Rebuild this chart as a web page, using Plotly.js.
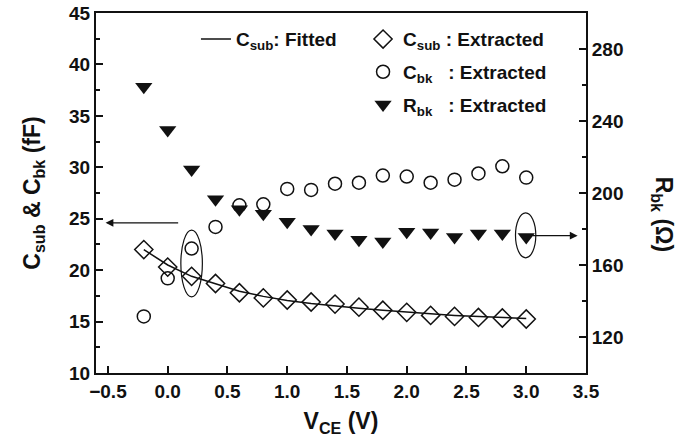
<!DOCTYPE html>
<html>
<head>
<meta charset="utf-8">
<script src="https://cdn.plot.ly/plotly-3.0.1.min.js"></script>
<style>
  html, body { margin: 0; padding: 0; background: #fff; }
  #chart { width: 691px; height: 442px; }
</style>
</head>
<body>
<div id="chart"></div>
<script>
// V_CE (V)
const vce = [-0.2, 0.0, 0.2, 0.4, 0.6, 0.8, 1.0, 1.2, 1.4, 1.6, 1.8, 2.0, 2.2, 2.4, 2.6, 2.8, 3.0];
// C_sub extracted (fF)
const csubExtracted = [22.0, 20.3, 19.4, 18.7, 17.8, 17.3, 17.1, 16.9, 16.7, 16.4, 16.1, 15.9, 15.6, 15.5, 15.4, 15.35, 15.25];
// C_sub fitted (fF)
const csubFitted = [22.0, 20.5, 19.4, 18.65, 17.95, 17.45, 17.05, 16.75, 16.5, 16.3, 16.1, 15.9, 15.75, 15.6, 15.5, 15.4, 15.3];
// C_bk extracted (fF)
const cbkExtracted = [15.5, 19.2, 22.1, 24.2, 26.3, 26.4, 27.9, 27.8, 28.4, 28.5, 29.2, 29.1, 28.5, 28.8, 29.4, 30.1, 29.0];
// R_bk extracted (Ohm)
const rbkExtracted = [259, 235, 213, 196.5, 191, 188.5, 184, 180, 177.5, 174, 173, 178.5, 178, 175.5, 177.5, 177.5, 175.5];

const FONT = "'Liberation Sans', Arial, sans-serif";
const tickFont = {family: FONT, size: 19, color: '#111', weight: 'bold'};
const legFont = {family: FONT, size: 19, color: '#111', weight: 'bold'};
const titleFont = {family: FONT, size: 23, color: '#111', weight: 'bold'};

const traces = [
  {
    x: vce, y: csubFitted, type: 'scatter', mode: 'lines',
    name: 'C<sub>sub</sub>: Fitted',
    line: {color: '#111', width: 1.5},
    legend: 'legend2'
  },
  {
    x: vce, y: csubExtracted, type: 'scatter', mode: 'markers',
    name: 'C<sub>sub</sub> : Extracted', legendgroup: 'a',
    marker: {symbol: 'diamond-open', size: 14, color: '#111', line: {width: 1.5, color: '#111'}}
  },
  {
    x: vce, y: cbkExtracted, type: 'scatter', mode: 'markers',
    name: 'C<sub>bk</sub>&nbsp;&nbsp; : Extracted', legendgroup: 'b',
    marker: {symbol: 'circle-open', size: 13, color: '#111', line: {width: 1.5, color: '#111'}}
  },
  {
    x: vce, y: rbkExtracted, type: 'scatter', mode: 'markers', yaxis: 'y2',
    name: 'R<sub>bk</sub>&nbsp;&nbsp; : Extracted', legendgroup: 'c',
    marker: {symbol: 'triangle-down', size: 15, color: '#111', line: {width: 0}}
  }
];

const layout = {
  width: 691, height: 442,
  margin: {l: 96, r: 105, t: 13, b: 69},
  paper_bgcolor: '#fff', plot_bgcolor: '#fff',
  showlegend: true,
  legend: {
    x: 0.545, y: 0.98, xanchor: 'left', yanchor: 'top',
    bgcolor: 'rgba(0,0,0,0)', font: legFont, tracegroupgap: 5,
    itemwidth: 30
  },
  legend2: {
    x: 0.204, y: 0.98, xanchor: 'left', yanchor: 'top',
    bgcolor: 'rgba(0,0,0,0)', font: legFont
  },
  xaxis: {
    range: [-0.6, 3.5], dtick: 0.5, tick0: 0, tickformat: '.1f',
    showline: true, linecolor: '#111', linewidth: 2, mirror: true,
    ticks: 'inside', ticklen: 7, tickwidth: 2, tickcolor: '#111',
    showgrid: false, zeroline: false, tickfont: tickFont,
    title: {text: 'V<sub>CE</sub> (V)', font: titleFont, standoff: 12}
  },
  yaxis: {
    range: [10, 45], dtick: 5,
    showline: true, linecolor: '#111', linewidth: 2,
    ticks: 'inside', ticklen: 7, tickwidth: 2, tickcolor: '#111',
    minor: {dtick: 2.5, ticks: 'inside', ticklen: 4, tickwidth: 2, tickcolor: '#111', showgrid: false},
    showgrid: false, zeroline: false, tickfont: tickFont,
    title: {text: 'C<sub>sub</sub> & C<sub>bk</sub> (fF)', font: titleFont, standoff: 22}
  },
  yaxis2: {
    overlaying: 'y', side: 'right', range: [100, 300],
    showline: true, linecolor: '#111', linewidth: 2,
    ticks: 'inside', ticklen: 7, tickwidth: 2, tickcolor: '#111',
    minor: {dtick: 20, ticks: 'inside', ticklen: 4, tickwidth: 2, tickcolor: '#111', showgrid: false},
    showgrid: false, zeroline: false, tickfont: tickFont,
    tickvals: [120, 160, 200, 240, 280]
  },
  shapes: [
    {type: 'circle', xref: 'x', yref: 'y', x0: 0.11, x1: 0.29, y0: 17.4, y1: 23.9,
     line: {color: '#111', width: 1.2}},
    {type: 'circle', xref: 'x', yref: 'y2', x0: 2.91, x1: 3.08, y0: 164, y1: 189,
     line: {color: '#111', width: 1.2}}
  ],
  annotations: [
    {xref: 'x', yref: 'y', x: -0.52, y: 24.6, ax: 0.1, ay: 24.6, axref: 'x', ayref: 'y',
     showarrow: true, arrowhead: 2, arrowsize: 1.2, arrowwidth: 1.3, arrowcolor: '#111', text: ''},
    {xref: 'x', yref: 'y2', x: 3.43, y: 176.3, ax: 3.04, ay: 176.3, axref: 'x', ayref: 'y2',
     showarrow: true, arrowhead: 2, arrowsize: 1.2, arrowwidth: 1.3, arrowcolor: '#111', text: ''},
    {xref: 'paper', yref: 'paper', x: 1.155, y: 0.44, xanchor: 'center', yanchor: 'middle',
     textangle: 90, showarrow: false,
     text: 'R<sub>bk</sub> (Ω)', font: titleFont}
  ]
};

Plotly.newPlot('chart', traces, layout, {displayModeBar: false, staticPlot: true});
</script>
</body>
</html>
